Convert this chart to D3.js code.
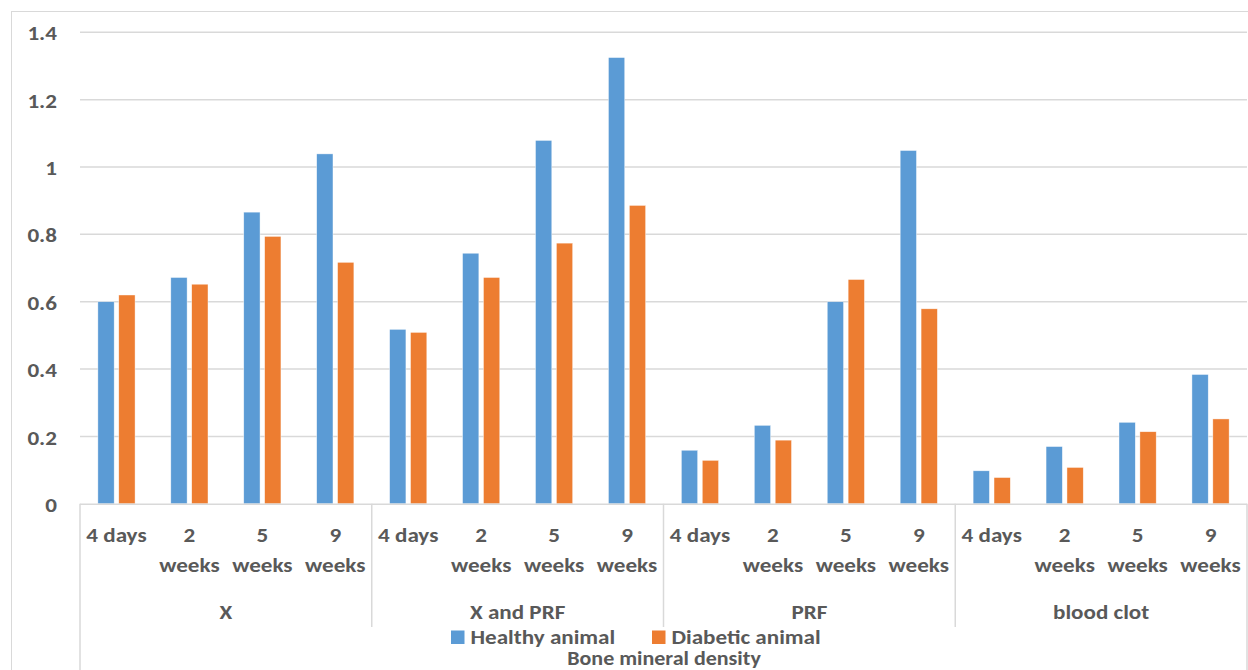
<!DOCTYPE html>
<html>
<head>
<meta charset="utf-8">
<script src="https://cdn.jsdelivr.net/npm/d3@7"></script>
<style>
  html, body { margin: 0; padding: 0; background: #fff; }
  svg { display: block; }
  text { font-family: Carlito, Calibri, Lato, "Open Sans", sans-serif; font-weight: bold; fill: #595959; }
</style>
</head>
<body>
<svg id="chart" width="1248" height="670"></svg>
<script>
// Bone mineral density by treatment group and time point
const groups = ["X", "X and PRF", "PRF", "blood clot"];
const timePoints = [["4 days"], ["2", "weeks"], ["5", "weeks"], ["9", "weeks"]];
const seriesNames = ["Healthy animal", "Diabetic animal"];
const seriesColors = ["#5b9bd5", "#ed7d31"];

const healthy = [
  0.60, 0.672, 0.866, 1.039,   // X
  0.518, 0.744, 1.079, 1.325,  // X and PRF
  0.159, 0.233, 0.60, 1.049,   // PRF
  0.098, 0.170, 0.242, 0.384   // blood clot
];
const diabetic = [
  0.62, 0.652, 0.794, 0.717,
  0.509, 0.672, 0.774, 0.886,
  0.129, 0.189, 0.666, 0.579,
  0.078, 0.108, 0.214, 0.252
];
const yTicks = [0, 0.2, 0.4, 0.6, 0.8, 1, 1.2, 1.4];
const axisTitle = "Bone mineral density";

const svg = d3.select("#chart");
const W = 1248, H = 670;
const plot = { left: 80, right: 1247, top: 32.3, bottom: 503.8 };
const FS = 21;          // label font size
const STRETCH = 1.1;    // horizontal stretch of the labels

// place a text element at (px, py), widened horizontally about px
function placeStretched(sel, px, py) {
  sel.attr("x", 0).attr("y", 0)
    .attr("transform", `translate(${px},${py}) scale(${STRETCH},1)`);
}

// outer chart frame
svg.append("rect")
  .attr("x", 11.5).attr("y", 11.5)
  .attr("width", W + 10).attr("height", H + 10)
  .attr("fill", "#fff").attr("stroke", "#d9d9d9").attr("stroke-width", 1);

// flat list of categories (group x time point)
const cats = [];
groups.forEach((g, gi) => timePoints.forEach((t, ti) => cats.push({ g, gi, t, ti, idx: gi * 4 + ti })));

const x = d3.scaleBand().domain(cats.map(c => c.idx)).range([plot.left, plot.right]).padding(0);
const xs = d3.scaleBand().domain(seriesNames).range([0, x.bandwidth()])
  .paddingInner(0.22).paddingOuter(0.855);
const y = d3.scaleLinear().domain([0, 1.4]).range([plot.bottom, plot.top]);

// horizontal gridlines
svg.append("g").selectAll("line").data(yTicks.filter(v => v > 0)).join("line")
  .attr("x1", plot.left).attr("x2", plot.right)
  .attr("y1", d => y(d)).attr("y2", d => y(d))
  .attr("stroke", "#d9d9d9").attr("stroke-width", 1.5);

// y axis tick labels
const yAxis = d3.axisLeft(y).tickValues(yTicks).tickSize(0)
  .tickFormat(d => d3.format("~g")(d));
const yg = svg.append("g").attr("transform", `translate(${plot.left},0)`).call(yAxis);
yg.select(".domain").remove();
yg.selectAll("text")
  .style("font-family", null).attr("font-family", null)
  .attr("font-size", FS).attr("fill", "#595959").attr("dy", "0.36em")
  .attr("x", 0)
  .attr("transform", `translate(-23,0) scale(${STRETCH},1)`);

// bars
const seriesData = [healthy, diabetic];
seriesData.forEach((vals, si) => {
  svg.append("g").selectAll("rect").data(cats).join("rect")
    .attr("x", c => x(c.idx) + xs(seriesNames[si]))
    .attr("width", xs.bandwidth())
    .attr("y", c => y(vals[c.idx]))
    .attr("height", c => y(0) - y(vals[c.idx]))
    .attr("fill", seriesColors[si])
    .attr("stroke", "#ffffff").attr("stroke-width", 0.6).attr("stroke-opacity", 0.7);
});

// category axis: baseline, group dividers and outer lines
const axisG = svg.append("g").attr("stroke", "#d9d9d9").attr("stroke-width", 1.5);
axisG.append("line").attr("x1", plot.left).attr("x2", plot.right)
  .attr("y1", plot.bottom + 0.5).attr("y2", plot.bottom + 0.5);
[plot.left, plot.right].forEach(px => {
  axisG.append("line").attr("x1", px).attr("x2", px).attr("y1", plot.bottom).attr("y2", H);
});
groups.slice(1).forEach((g, i) => {
  const px = x((i + 1) * 4);
  axisG.append("line").attr("x1", px).attr("x2", px).attr("y1", plot.bottom).attr("y2", 627);
});

// time point labels (wrapped onto two lines where needed)
const tl = svg.append("g").selectAll("g").data(cats).join("g")
  .attr("transform", c => `translate(${x(c.idx) + x.bandwidth() / 2},0) scale(${STRETCH},1)`);
tl.append("text").attr("text-anchor", "middle").attr("font-size", FS)
  .each(function (c) {
    d3.select(this).selectAll("tspan").data(c.t).join("tspan")
      .attr("x", 0)
      .attr("y", (d, i) => 542 + i * 30)
      .text(d => d);
  });

// group labels
svg.append("g").selectAll("text").data(groups).join("text")
  .attr("text-anchor", "middle").attr("font-size", FS)
  .text(d => d)
  .each(function (g, i) {
    placeStretched(d3.select(this), (x(i * 4) + x(i * 4 + 3) + x.bandwidth()) / 2, 619);
  });

// legend
const legendItems = [
  { name: seriesNames[0], color: seriesColors[0], x: 451 },
  { name: seriesNames[1], color: seriesColors[1], x: 652 }
];
const lg = svg.append("g");
legendItems.forEach(it => {
  lg.append("rect").attr("x", it.x).attr("y", 630.5).attr("width", 13.5).attr("height", 13.5).attr("fill", it.color);
  const t = lg.append("text").attr("font-size", FS).text(it.name);
  placeStretched(t, it.x + 19.5, 643.5);
});

// axis title
const at = svg.append("text").attr("text-anchor", "middle").attr("font-size", 20).text(axisTitle);
placeStretched(at, 664, 664.5);
</script>
</body>
</html>
